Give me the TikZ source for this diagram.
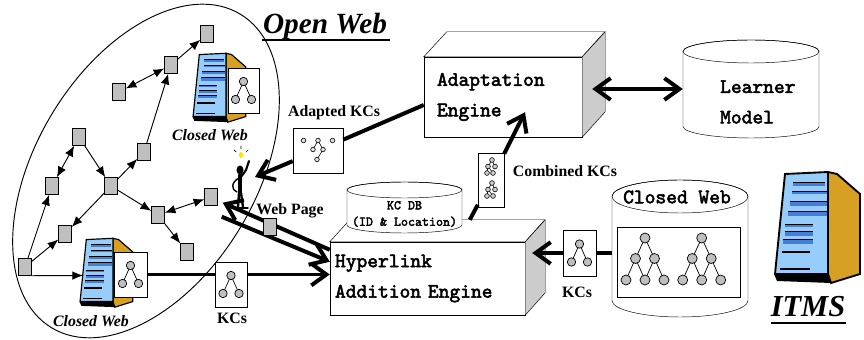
\documentclass[tikz,border=0pt]{standalone}
\usepackage{fontspec}
\setmainfont{Liberation Serif}
\newfontfamily\typebold{lmmono10-regular.otf}[FakeBold=2.5]
\usetikzlibrary{arrows.meta,calc}

\definecolor{srvblue}{RGB}{150,205,250}
\definecolor{srvbay}{RGB}{70,125,215}
\definecolor{srvgold}{RGB}{215,160,35}

\tikzset{
  gsq/.style={draw, fill=gray!50, minimum width=0.39cm, minimum height=0.51cm, inner sep=0pt},
  card/.style={draw, fill=white, inner sep=0pt},
  lbl/.style={font=\fontsize{13.5}{15}\selectfont\bfseries},
  ital/.style={font=\fontsize{13.5}{15}\selectfont\bfseries\itshape},
  mono/.style={font=\fontsize{17.5}{26}\selectfont\typebold},
  wire/.style={line width=0.8pt},
  heavy/.style={line width=3.4pt},
  barb/.style={-{Straight Barb[length=4.5mm,width=6.5mm]}},
  srvline/.style={line width=1.6pt},
  % server tower, origin at its lower left corner
  pics/server/.style={code={
    \draw[srvline, fill=srvgold] (58,114) -- (67,112) -- (90,92) -- (90,12) -- (61,3) -- (58,12) -- cycle;
    \draw[srvline, fill=srvblue] (15,112) -- (58,114) -- (58,12) -- (5,12) -- cycle;
    \fill (4,12) -- (58,12) -- (61,3) -- (7,5) -- cycle;
    \foreach \ya/\yb/\xa/\xb in {100/104/23/55, 92/95/22/57, 80/85/20/57, 70/75/18/57,
                                59/62/15/43, 50/55/15/43, 42/47/13/43} {
      \fill[srvbay] (\xa,\ya) rectangle (\xb,\yb);
      \draw[line width=0.6pt] (\xa,\yb) -- (\xb,\yb);
    }
    \draw[line width=1.2pt] (12,34) -- (40,34) (10,17) -- (40,17);
  }},
  pics/kctree/.style={code={
    \draw[line width=0.6pt] (0,9) -- (-8,-9) (0,9) -- (8,-9);
    \foreach \x/\y in {0/9, -8/-9, 8/-9}
      \filldraw[fill=gray!50, line width=0.6pt] (\x,\y) circle (4.2);
  }},
  pics/bigtree/.style={code={
    \draw[line width=0.6pt] (0,0) -- (-9.5,-20.5) (0,0) -- (9.5,-20.5)
      (-9.5,-20.5) -- (-19,-42) (-9.5,-20.5) -- (0,-42)
      (9.5,-20.5) -- (0,-42) (9.5,-20.5) -- (19,-42);
    \foreach \x/\y in {0/0, -9.5/-20.5, 9.5/-20.5, -19/-42, 0/-42, 19/-42}
      \filldraw[fill=gray!50, line width=0.6pt] (\x,\y) circle (5);
  }},
  pics/adtree/.style={code={
    \draw[line width=0.5pt] (0,10) -- (-5,1) (0,10) -- (5,1) (5,1) -- (-1,-9);
    \foreach \x/\y in {-14.5/10, 0/10, 14.5/10, -5/1, 5/1, -1/-9}
      \filldraw[fill=gray!25, line width=0.5pt] (\x,\y) circle (2.3);
  }},
  pics/combtree/.style={code={
    \foreach \dy in {20,-3} {
      \begin{scope}[shift={(0,\dy)}]
        \draw[line width=0.5pt] (1,0) -- (-3,-6.5) (1,0) -- (4,-6.5) (-3,-6.5) -- (-4,-13) (-3,-6.5) -- (2,-13);
        \foreach \x/\y in {1/0, -3/-6.5, 4/-6.5, -4/-13, 2/-13}
          \filldraw[fill=gray!40, line width=0.5pt] (\x,\y) circle (2.4);
      \end{scope}
    }
  }},
  % cylinder: width, height, radius of the end ellipse
  pics/drum/.style n args={3}{code={
    \draw[fill=white] ({-#1/2},{#2/2-#3}) -- ({-#1/2},{-#2/2+#3})
      arc[start angle=180, end angle=360, x radius=#1/2, y radius=#3]
      -- ({#1/2},{#2/2-#3})
      arc[start angle=0, end angle=180, x radius=#1/2, y radius=#3] -- cycle;
    \draw (0,{#2/2-#3}) ellipse[x radius=#1/2, y radius=#3];
  }}
}

\begin{document}
\begin{tikzpicture}[x=0.03cm, y=0.03cm, >={Latex[length=3.2mm,width=2.6mm]}]
  \useasboundingbox (0,0) rectangle (864,340);

  % open web
  \draw[wire, rotate around={59:(146,169)}] (146,169) ellipse[x radius=183, y radius=110];

  \pic at (190,216) [srvline/.style={line width=1pt}, scale=0.62] {server};
  \pic at (77,31) [srvline/.style={line width=1pt}, scale=0.62] {server};
  \pic at (770,54) {server};

  \node[gsq] (s1) at (207,306) {};
  \node[gsq] (s2) at (171,275) {};
  \node[gsq] (s3) at (119,248) {};
  \node[gsq] (s4) at (79,203) {};
  \node[gsq] (s5) at (144,188) {};
  \node[gsq] (s6) at (52,154) {};
  \node[gsq] (s7) at (111,154) {};
  \node[gsq] (s8) at (211,143) {};
  \node[gsq] (s9) at (65,106) {};
  \node[gsq] (s10) at (158,125) {};
  \node[gsq] (s11) at (187,88) {};
  \node[gsq] (s12) at (25,73) {};
  \coordinate (srvin) at (83,64.5);

  \foreach \a/\b in {s12/s6, s12/s9, s4/s7, s7/s9, s7/s5, s7/s10, s10/s11, s5/s2, s2/s1}
    \draw[wire,->] (\a) -- (\b);
  \foreach \a/\b in {s6/s4, s10/s8, s2/s3}
    \draw[wire,<->] (\a) -- (\b);
  \draw[wire,->] (s12.south east) -- (srvin);

  % user at the browser
  \begin{scope}[line cap=round]
    \fill (240,170) ellipse[x radius=3.5, y radius=4.5];
    \draw[line width=3pt] (240,165) -- (240,146);
    \draw[line width=1.8pt] (241,163) -- (246,170) -- (249,179);
    \draw[line width=1.2pt] (239,162) .. controls (231,158) and (231,150) .. (237,148);
    \draw[line width=2pt] (239,147) -- (238,133) (241,147) -- (243,133);
    \draw[line width=1.2pt] (233,132) -- (248,132);
    \fill[yellow!90!orange] (241,185) ellipse[x radius=2, y radius=3.2];
    \draw[line width=0.6pt] (236,188) -- (234,190) (246,188) -- (248,190) (241,191) -- (241,194);
  \end{scope}
  \coordinate (hand) at (255,163);

  % engines
  \node[draw, fill=white, mono, align=left, text width=3.96cm, inner xsep=0.39cm,
        minimum height=2.4cm] (adapt) at (503,243) {Adaptation\\Engine};
  \draw[fill=white] (adapt.north west) -- ++(23,25) -- ++(158,0) -- (adapt.north east) -- cycle;
  \draw[fill=gray!40] (adapt.north east) -- ++(23,25) -- ++(0,-80) -- (adapt.south east) -- cycle;

  \node[draw, fill=white, mono, align=left, text width=5.55cm, inner xsep=0.15cm,
        minimum height=2.19cm] (hyp) at (427.5,61.5) {Hyperlink\\Addition Engine};
  \draw[fill=white] (hyp.north west) -- ++(20,22) -- ++(195,0) -- (hyp.north east) -- cycle;
  \draw[fill=gray!40] (hyp.north east) -- ++(20,22) -- ++(0,-73) -- (hyp.south east) -- cycle;

  \pic at (404.5,132.5) {drum={115}{51}{8}};
  \node[font=\fontsize{11.4}{14}\selectfont\typebold, align=center] (kcdb) at (404.5,126)
    {KC DB\\(ID \& Location)};

  \pic at (751,251) {drum={136}{98}{11.5}};
  \node[minimum width=4.08cm, minimum height=2.94cm] (learner) at (751,251) {};
  \node[mono, align=left, anchor=west] (lmtext) at (716,238) {Learner\\Model};

  \pic at (680,91.5) {drum={136}{137}{16.5}};
  \node[minimum width=4.08cm, minimum height=4.11cm] (cweb) at (680,91.5) {};
  \node[mono] (cwtext) at (677,143) {Closed Web};
  \node[draw, minimum width=3.69cm, minimum height=2.1cm] (kcset) at (678.3,77.3) {};
  \pic at (645,102) {bigtree};
  \pic at (701.7,102) {bigtree};

  % knowledge cards
  \node[card, minimum width=0.93cm, minimum height=1.35cm] (srv1card) at (243.5,249.5) {};
  \pic at (srv1card) {kctree};
  \node[card, minimum width=0.99cm, minimum height=1.35cm] (srv2card) at (130.5,65.5) {};
  \pic at (srv2card) {kctree};
  \node[card, minimum width=1.5cm, minimum height=1.35cm] (adcard) at (318,189.5) {};
  \pic at (adcard) {adtree};
  \node[card, minimum width=0.78cm, minimum height=1.62cm] (comb) at (491,160) {};
  \pic at (comb) {combtree};
  \node[card, minimum width=0.96cm, minimum height=1.35cm] (kc2) at (231,55.5) {};
  \pic at (kc2) {kctree};
  \node[card, minimum width=0.99cm, minimum height=1.38cm] (kc3) at (579.5,87) {};
  \pic at (kc3) {kctree};

  % data flow
  \coordinate (wpin) at ($(s8.south east)+(5,3)$);
  \coordinate (wpout) at ($(s8.south east)+(4,-11)$);
  \draw[heavy] ($(adapt.west)+(0,-8)$) -- (adcard);
  \draw[heavy,barb] (adcard) -- (hand);
  \draw[heavy,{Straight Barb[length=4.5mm,width=6.5mm]}-{Straight Barb[length=4.5mm,width=6.5mm]}]
    ($(adapt.east)+(10,8)$) -- (learner.west);
  \draw[heavy] ($(hyp.north west)+(140,22)$) -- (comb);
  \draw[heavy,barb] (comb) -- ($(adapt.south)+(22,25)$);
  \draw[heavy,barb] ($(hyp.north west)+(0,-8)$) -- (wpin);
  \draw[heavy,barb] (wpout) -- ($(hyp.north west)+(0,-20)$);
  \draw[heavy] (srv2card.east) -- (kc2.west |- srv2card.east);
  \draw[heavy,barb] (kc2.east |- srv2card.east) -- (hyp.west |- srv2card.east);
  \draw[heavy] (cweb.west |- kc3.east) -- (kc3.east);
  \draw[heavy,barb] (kc3.west) -- ($(hyp.east |- kc3.west)+(7,0)$);
  \node[gsq] (s13) at (270,113) {};

  % labels
  \node[font=\fontsize{25}{28}\selectfont\bfseries\itshape] (openweb) at (325,314) {Open Web};
  \draw[line width=2.2pt] (262,300) -- (390,300);
  \node[font=\fontsize{26}{28}\selectfont\bfseries\itshape] (itms) at (808,33.5) {ITMS};
  \draw[line width=2.2pt] (771,17) -- (846,17);
  \node[ital] (cw1lbl) at (210,205) {Closed Web};
  \node[ital] (cw2lbl) at (91,19) {Closed Web};
  \node[lbl] (adlbl) at (334,227) {Adapted KCs};
  \node[lbl] (cmblbl) at (565,169) {Combined KCs};
  \node[lbl] (wplbl) at (290,129) {Web Page};
  \node[lbl] (kclbl1) at (232,22) {KCs};
  \node[lbl] (kclbl2) at (577,48) {KCs};
\end{tikzpicture}
\end{document}
